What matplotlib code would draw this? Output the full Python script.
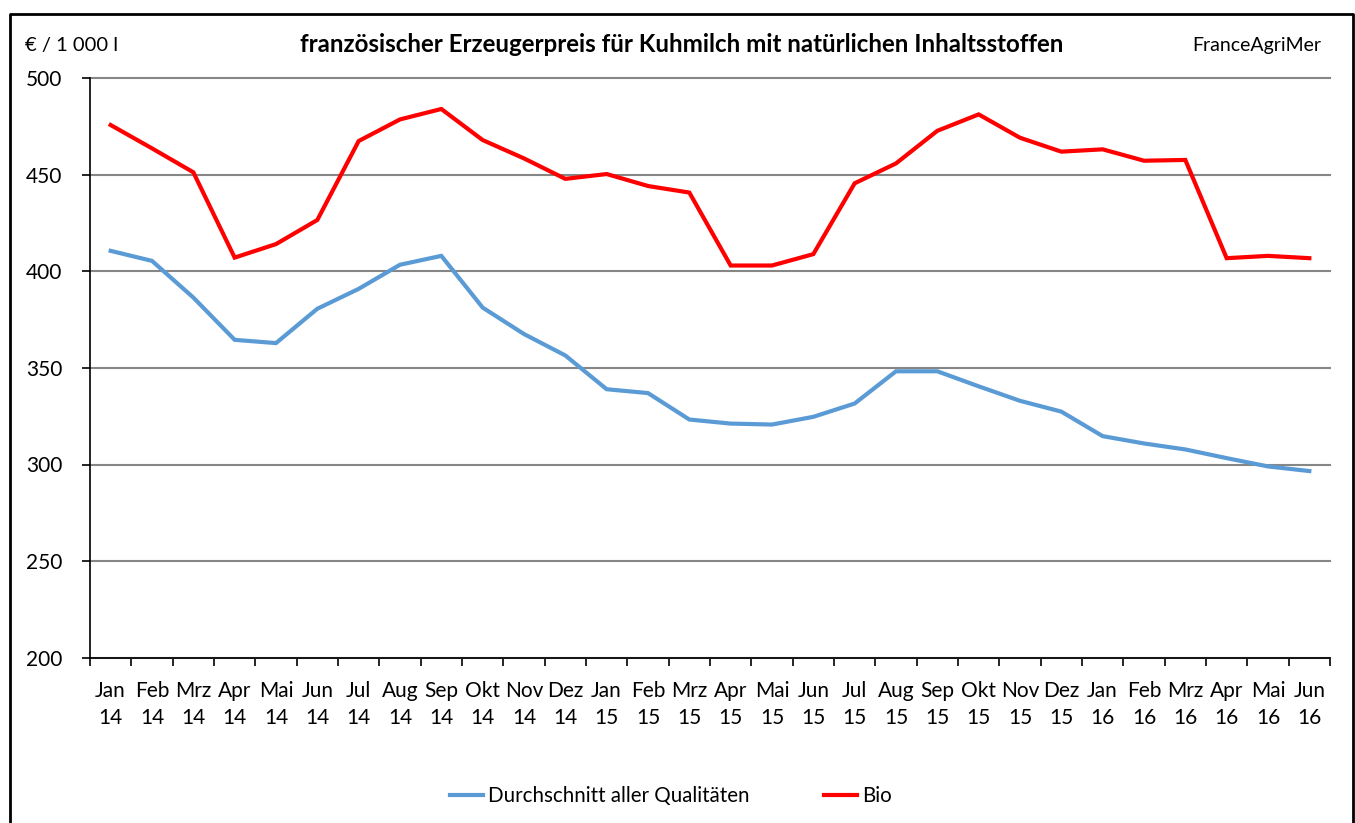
import matplotlib.pyplot as plt
from matplotlib.lines import Line2D

plt.rcParams['font.family'] = ['Lato', 'DejaVu Sans']

months = ["Jan", "Feb", "Mrz", "Apr", "Mai", "Jun", "Jul", "Aug", "Sep", "Okt", "Nov", "Dez"]
years = ["14", "15", "16"]
labels = []
for y in years:
    for m in months:
        labels.append(m + "\n" + y)
labels = labels[:30]  # Jan 14 .. Jun 16

durchschnitt = [410.7, 405.5, 386.5, 364.6, 362.9, 380.7, 391.0, 403.5, 408.1, 381.3, 367.6, 356.5,
                339.0, 337.0, 323.3, 321.2, 320.7, 324.7, 331.6, 348.3, 348.3, 340.5, 333.0, 327.4,
                314.7, 310.9, 307.8, 303.3, 299.0, 296.6]
bio = [475.9, 463.8, 451.4, 407.2, 414.2, 426.7, 467.6, 478.8, 484.2, 468.1, 458.6, 448.0,
       450.5, 444.3, 440.9, 403.1, 403.1, 409.0, 445.7, 456.0, 472.9, 481.4, 469.3, 462.1,
       463.3, 457.4, 457.8, 406.9, 408.1, 406.9]

fig = plt.figure(figsize=(13.55, 8.23), dpi=100)
ax = fig.add_axes([90 / 1355, 1 - 657.5 / 823, 1240 / 1355, 579 / 823])

x = list(range(len(labels)))
ax.plot(x, durchschnitt, color="#5B9BD5", lw=3, solid_joinstyle="miter")
ax.plot(x, bio, color="#FF0000", lw=3, solid_joinstyle="miter")

ax.set_xlim(-0.5, len(labels) - 0.5)
ax.set_ylim(200, 500)
ax.set_yticks(range(200, 501, 50))
ax.tick_params(axis="y", labelsize=15, length=6, width=1.2, pad=14)
ax.set_xticks(x)
ax.set_xticklabels(labels, fontsize=15, linespacing=1.45)
ax.tick_params(axis="x", length=0, pad=17)
ax.set_xticks([i - 0.5 for i in range(len(labels) + 1)], minor=True)
ax.tick_params(axis="x", which="minor", length=6, width=1.2)
ax.yaxis.grid(True, color="#868686", lw=1.5)
for gl in ax.get_ygridlines():
    gl.set_clip_on(False)
ax.set_axisbelow(True)
for s in ["top", "right"]:
    ax.spines[s].set_visible(False)
ax.spines["left"].set_linewidth(1.2)
ax.spines["bottom"].set_linewidth(1.2)

fig.text(682 / 1355, 1 - 45 / 823, "französischer Erzeugerpreis für Kuhmilch mit natürlichen Inhaltsstoffen",
         ha="center", va="center", fontsize=17.4, fontweight="bold")
fig.text(25 / 1355, 1 - 45 / 823, "€ / 1 000 l", ha="left", va="center", fontsize=14.5)
fig.text(1321 / 1355, 1 - 45 / 823, "FranceAgriMer", ha="right", va="center", fontsize=14)

# frame around chart (bottom edge is cut off in the original)
fig.add_artist(Line2D([10 / 1355, 10 / 1355, 1353 / 1355, 1353 / 1355],
                      [0, 1 - 14 / 823, 1 - 14 / 823, 0], color="black", lw=2))

handles = [Line2D([], [], color="#5B9BD5", lw=3), Line2D([], [], color="#FF0000", lw=3)]
fig.legend(handles, ["Durchschnitt aller Qualitäten", "Bio"], loc="center",
           bbox_to_anchor=(671 / 1355, 1 - 796 / 823), ncol=2, frameon=False,
           fontsize=14.8, handlelength=1.6, handletextpad=0.25, columnspacing=3.6)

fig.savefig("out.png", dpi=100)
